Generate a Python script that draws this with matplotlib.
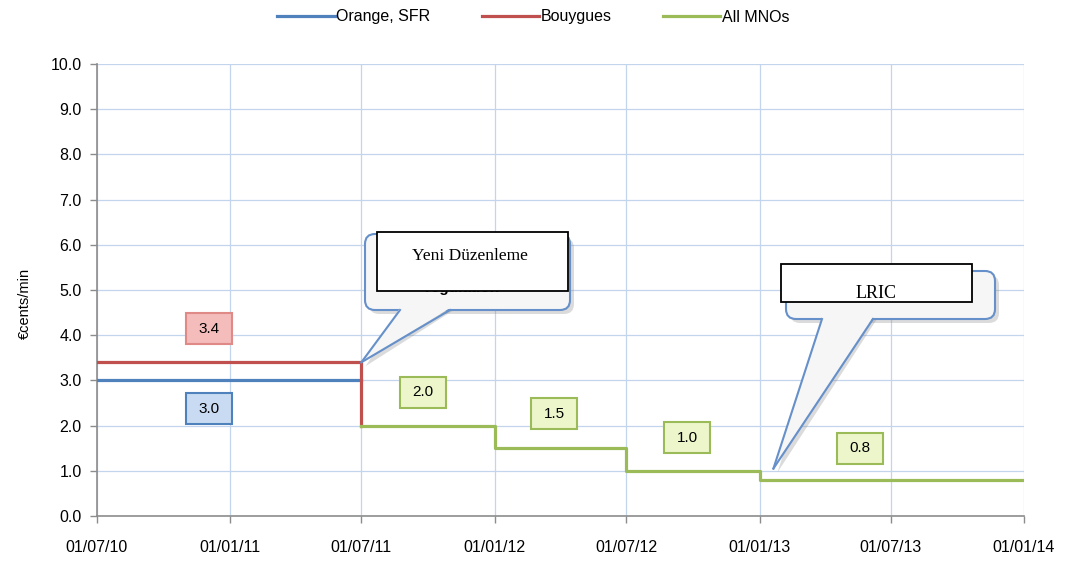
import datetime as dt
import numpy as np
import matplotlib
matplotlib.use('Agg')
import matplotlib.pyplot as plt
import matplotlib.dates as mdates
import matplotlib.transforms as mtransforms
from matplotlib.patches import Rectangle, FancyBboxPatch, Polygon

plt.rcParams['font.family'] = ['Liberation Sans', 'DejaVu Sans']

# data (eurocents/min)
orange_dates = [dt.date(2010, 7, 1), dt.date(2011, 7, 1)]
orange_vals = [3.0, 3.0]
bouygues_dates = [dt.date(2010, 7, 1), dt.date(2011, 7, 1), dt.date(2011, 7, 1)]
bouygues_vals = [3.4, 3.4, 2.0]
mno_dates = [dt.date(2011, 7, 1), dt.date(2012, 1, 1), dt.date(2012, 7, 1),
             dt.date(2013, 1, 1), dt.date(2014, 1, 1)]
mno_vals = [2.0, 1.5, 1.0, 0.8, 0.8]

tick_dates = [dt.date(2010, 7, 1), dt.date(2011, 1, 1), dt.date(2011, 7, 1),
              dt.date(2012, 1, 1), dt.date(2012, 7, 1), dt.date(2013, 1, 1),
              dt.date(2013, 7, 1), dt.date(2014, 1, 1)]

# value labels: text, anchor date, anchor y, style
label_text = ['3.4', '3.0', '2.0', '1.5', '1.0', '0.8']
label_date = [dt.date(2010, 12, 2), dt.date(2010, 12, 3), dt.date(2011, 9, 24),
              dt.date(2012, 3, 23), dt.date(2012, 9, 23), dt.date(2013, 5, 20)]
label_y = [4.14, 2.37, 2.74, 2.26, 1.73, 1.5]
label_kind = ['red', 'blue', 'green', 'green', 'green', 'green']

BLUE = '#4f81bd'
RED = '#c0504d'
GREEN = '#9bbb59'
box_style = {'red': ('#f4bcbb', '#e08a88'),
             'blue': ('#c9dbf2', '#4f81bd'),
             'green': ('#edf6cb', '#9bbb59')}

W, H = 1073, 567
fig = plt.figure(figsize=(W / 100, H / 100), dpi=100)
ax = fig.add_axes([97 / W, 1 - 516 / H, 927 / W, 452 / H])

ax.plot(orange_dates, orange_vals, color=BLUE, lw=2.3, label='Orange, SFR', zorder=3)
ax.plot(bouygues_dates, bouygues_vals, color=RED, lw=2.3, label='Bouygues', zorder=3)
ax.plot(mno_dates, mno_vals, color=GREEN, lw=2.3, drawstyle='steps-post',
        label='All MNOs', zorder=3)

ax.set_xlim(tick_dates[0], tick_dates[-1])
ax.set_ylim(0, 10)
ax.set_yticks(np.arange(0, 10.1, 1))
ax.yaxis.set_major_formatter(plt.FormatStrFormatter('%.1f'))
ax.set_xticks(tick_dates)
ax.xaxis.set_major_formatter(mdates.DateFormatter('%d/%m/%y'))
ax.grid(True, color='#c3d5ec', lw=0.9)
ax.set_axisbelow(True)
for s in ['top', 'right']:
    ax.spines[s].set_visible(False)
for s in ['left', 'bottom']:
    ax.spines[s].set_color('#8c8c8c')
    ax.spines[s].set_linewidth(1.2)
ax.tick_params(axis='both', colors='#8c8c8c', length=5, width=1, labelcolor='black',
               labelsize=11.5)
ax.tick_params(axis='x', pad=12)
ax.tick_params(axis='y', pad=6)
ax.set_ylabel('€cents/min', fontsize=10.5)
ax.yaxis.set_label_coords(-0.07, 0.47)

# value label boxes (fixed pixel size)
for txt, d, y, k in zip(label_text, label_date, label_y, label_kind):
    xd = mdates.date2num(d)
    tr = mtransforms.Affine2D() + mtransforms.ScaledTranslation(xd, y, ax.transData)
    fc, ec = box_style[k]
    ax.add_artist(Rectangle((-23, -15.5), 46, 31, transform=tr, facecolor=fc,
                            edgecolor=ec, lw=1.5, zorder=5, clip_on=False))
    ax.text(xd, y, txt, ha='center', va='center', fontsize=11, zorder=6)


def px(x, y):
    return (x / W, 1 - y / H)


def data_to_fig(d, y):
    p = ax.transData.transform((mdates.date2num(d), y))
    return fig.transFigure.inverted().transform(p)


def callout(box, base, tip):
    x0, y0, x1, y1 = box
    bl, br = base
    tf = fig.transFigure
    rs = 'round,pad=0,rounding_size=%f' % (10 / W)
    # shadow, offset down-right
    sh = 4
    tip_sh = (tip[0] + sh / W, tip[1] - sh / H)
    fig.add_artist(FancyBboxPatch(px(x0 + sh, y1 + sh), (x1 - x0) / W, (y1 - y0) / H,
                                  boxstyle=rs, mutation_aspect=W / H, transform=tf,
                                  facecolor='#8a8a8a', alpha=0.3, edgecolor='none', zorder=7))
    fig.add_artist(Polygon([px(bl + sh, y1), tip_sh, px(br + sh, y1)], closed=True,
                           transform=tf, facecolor='#8a8a8a', alpha=0.3,
                           edgecolor='none', zorder=7))
    fig.add_artist(FancyBboxPatch(px(x0, y1), (x1 - x0) / W, (y1 - y0) / H,
                                  boxstyle=rs, mutation_aspect=W / H, transform=tf,
                                  facecolor='#f6f6f6', edgecolor='#6690c9', lw=1.5, zorder=8))
    fig.add_artist(Polygon([px(bl, y1 - 2), tuple(tip), px(br, y1 - 2)], closed=True,
                           transform=tf, facecolor='#f6f6f6', edgecolor='none', zorder=9))
    for b in (bl, br):
        fig.add_artist(plt.Line2D([px(b, y1)[0], tip[0]], [px(b, y1)[1], tip[1]],
                                  transform=tf, color='#6690c9', lw=1.5, zorder=9))


# Yeni Düzenleme callout
callout((365, 234, 570, 310), (400, 450), data_to_fig(dt.date(2011, 7, 1), 3.4))
fig.text(*px(462, 288), 'regulation', ha='center', va='center', fontsize=11,
         fontweight='bold', zorder=9.5)
r1 = Rectangle(px(377, 291), 191 / W, 59 / H, transform=fig.transFigure,
               facecolor='white', edgecolor='black', lw=1.3, zorder=10)
fig.add_artist(r1)
fig.text(*px(470, 256), 'Yeni Düzenleme', ha='center', va='center', fontsize=12.5,
         family=['Liberation Serif', 'DejaVu Serif'], zorder=11)

# LRIC callout
callout((786, 271, 995, 319), (822, 873), data_to_fig(dt.date(2013, 1, 20), 1.05))
r2 = Rectangle(px(781, 302), 191 / W, 38 / H, transform=fig.transFigure,
               facecolor='white', edgecolor='black', lw=1.3, zorder=10)
fig.add_artist(r2)
t2 = fig.text(*px(876, 293), 'LRIC', ha='center', va='center', fontsize=13,
              family=['Liberation Serif', 'DejaVu Serif'], zorder=11)
t2.set_clip_path(r2)

fig.legend(loc='center', bbox_to_anchor=(0.497, 1 - 17 / H), ncol=3, frameon=False,
           fontsize=11.5, handlelength=3.6, handletextpad=0.1, columnspacing=3.2)

fig.savefig('out.png', dpi=100)
